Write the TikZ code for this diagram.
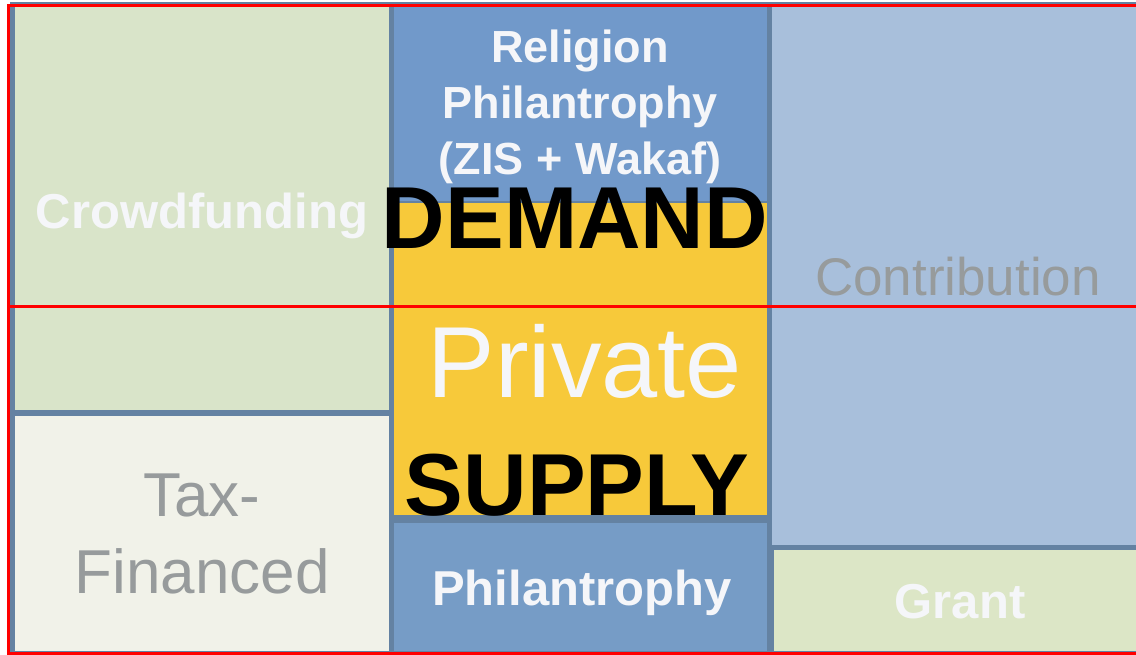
\documentclass[tikz,border=0pt]{standalone}
\usepackage{fontspec}
\setmainfont{Liberation Sans}
\usepackage{xcolor}
\usepackage{tikz}
\usetikzlibrary{positioning}

\definecolor{framebl}{HTML}{6482A2}
\definecolor{crowdgr}{HTML}{D9E4C9}
\definecolor{taxwh}{HTML}{F1F2E9}
\definecolor{religbl}{HTML}{7199CA}
\definecolor{privye}{HTML}{F7C93A}
\definecolor{philbl}{HTML}{769CC6}
\definecolor{contrbl}{HTML}{A8BFDB}
\definecolor{grantgr}{HTML}{DCE6C6}
\definecolor{lblwh}{HTML}{F5F6F9}
\definecolor{lblgr}{HTML}{979B9C}

\begin{document}
\begin{tikzpicture}[x=1pt,y=-1pt,
    cell/.style={anchor=north west,inner sep=0pt,outer sep=0pt},
    boldlbl/.style={inner sep=0pt,text=lblwh,font=\fontsize{49}{56}\selectfont\bfseries},
    thinlbl/.style={inner sep=0pt,text=lblgr},
    bigword/.style={inner sep=0pt,anchor=base,font=\fontsize{88}{88}\selectfont\bfseries}]
    \useasboundingbox (0,0) rectangle (1136,654);
    \clip (0,0) rectangle (1136,654);
    \fill[framebl] (10,2) rectangle (1140,656);

    % left column
    \node[cell,fill=crowdgr,minimum width=374pt,minimum height=403pt] (crowd) at (15,7) {};
    \node[cell,fill=taxwh,minimum width=374pt,minimum height=235pt] (tax) at (15,416) {};
    % middle column
    \node[cell,fill=religbl,minimum width=373pt,minimum height=194pt] (relig) at (394,7) {};
    \node[cell,fill=privye,minimum width=373pt,minimum height=312pt] (priv) at (394,203) {};
    \node[cell,fill=philbl,minimum width=373pt,minimum height=128pt] (phil) at (394,523) {};
    % right column
    \node[cell,fill=contrbl,minimum width=370pt,minimum height=538pt] (contr) at (772,7) {};
    \node[cell,fill=grantgr,minimum width=370pt,minimum height=101pt] (grant) at (774,550) {};

    % labels
    \node[boldlbl,anchor=base] (crowdtxt) at (202,228) {Crowdfunding};
    \node[boldlbl,anchor=north,align=center,font=\fontsize{45}{56}\selectfont\bfseries] (religtxt) at (580,30) {Religion\\Philantrophy\\(ZIS + Wakaf)};
    \node[inner sep=0pt,anchor=base,text=lblwh,font=\fontsize{101}{101}\selectfont] (privtxt) at (585,397) {Private};
    \node[thinlbl,anchor=base,font=\fontsize{53}{53}\selectfont] (contrtxt) at (958,295) {Contribution};
    \node[thinlbl,anchor=north,align=center,font=\fontsize{62}{77}\selectfont] (taxtxt) at (202,474) {Tax-\\Financed};
    \node[boldlbl,anchor=base] (philtxt) at (582,605) {Philantrophy};
    \node[boldlbl,anchor=base] (granttxt) at (960,618) {Grant};

    % red frames
    \draw[red,line width=3pt] (8,5) rectangle (1142,306);
    \draw[red,line width=3pt] (8,306) rectangle (1142,653);

    % demand and supply
    \node[bigword] (demand) at (575,248) {DEMAND};
    \node[bigword] (supply) at (577,515) {SUPPLY};
\end{tikzpicture}
\end{document}
